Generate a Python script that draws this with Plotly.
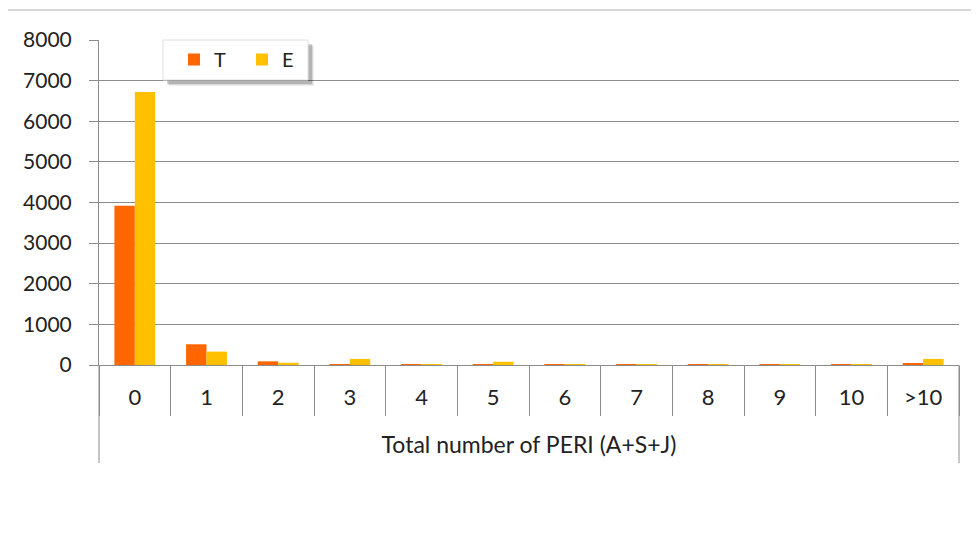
import plotly.graph_objects as go

categories = ["0", "1", "2", "3", "4", "5", "6", "7", "8", "9", "10", ">10"]
t_values = [3920, 510, 90, 10, 3, 5, 5, 2, 2, 2, 5, 40]
e_values = [6720, 330, 55, 150, 5, 80, 10, 3, 3, 3, 15, 150]
y_ticks = [0, 1000, 2000, 3000, 4000, 5000, 6000, 7000, 8000]

FONT = "Lato"
GRAY = "#8c8c8c"
OFF = 8  # page body margin
L, R, T, B = 99, 959, 40, 365  # plot area in screen pixels

fig = go.Figure()
fig.add_trace(go.Bar(name="T", x=categories, y=t_values, marker_color="#FF6600", marker_line_width=0))
fig.add_trace(go.Bar(name="E", x=categories, y=e_values, marker_color="#FFC000", marker_line_width=0))

fig.update_layout(
    width=979 - OFF, height=536 - OFF,
    margin=dict(l=L - OFF, r=979 - R, t=T - OFF, b=536 - B, autoexpand=False),
    paper_bgcolor="white", plot_bgcolor="white",
    barmode="group", bargap=0.43, bargroupgap=0,
    font=dict(family=FONT, size=20, color="#222"),
    showlegend=True,
    legend=dict(orientation="h", x=(174-L)/(R-L), y=1.0, xanchor="left", yanchor="top",
                bgcolor="rgba(0,0,0,0)", borderwidth=0, font=dict(size=20),
                entrywidth=23, entrywidthmode="pixels", tracegroupgap=0),
)

fig.update_yaxes(range=[0, 8000], tickvals=y_ticks, showgrid=True, gridcolor=GRAY, gridwidth=1,
                 showline=True, linecolor=GRAY, ticks="outside", ticklen=9, tickcolor=GRAY,
                 ticklabelstandoff=13,
                 zeroline=False, tickfont=dict(size=21), automargin=False, fixedrange=True)
fig.update_xaxes(type="category", categoryarray=categories, showline=True, linecolor=GRAY,
                 ticks="outside", tickson="boundaries", ticklen=50, tickcolor=GRAY,
                 ticklabelstandoff=13, tickfont=dict(size=22), automargin=False,
                 title=dict(text="Total number of PERI (A+S+J)", font=dict(size=23), standoff=27))

ph = float(B - T)
pw = float(R - L)
def px(x):
    return (x - L) / pw
def py(y):
    return (B - y) / ph

# outer frame of category axis
for xp in [0, 1]:
    fig.add_shape(type="line", xref="paper", yref="paper", x0=xp, x1=xp, y0=0, y1=py(463),
                  line=dict(color=GRAY, width=1))
# top border line
fig.add_shape(type="line", xref="paper", yref="paper", x0=px(0), x1=px(979),
              y0=py(10), y1=py(10), line=dict(color="#b0b0b0", width=1))
# legend shadow and box
for off, op in [(6, 0.06), (5, 0.10), (4, 0.16)]:
    fig.add_shape(type="rect", xref="paper", yref="paper",
                  x0=px(163 + off), x1=px(308 + off), y0=py(80 + off), y1=py(40 + off),
                  fillcolor="rgba(0,0,0,%s)" % op, line=dict(width=0), layer="above")
fig.add_shape(type="rect", xref="paper", yref="paper",
              x0=px(163), x1=px(308), y0=py(80), y1=py(40),
              fillcolor="white", line=dict(color="#e0e0e0", width=1), layer="above")

fig.write_html("out.html")
